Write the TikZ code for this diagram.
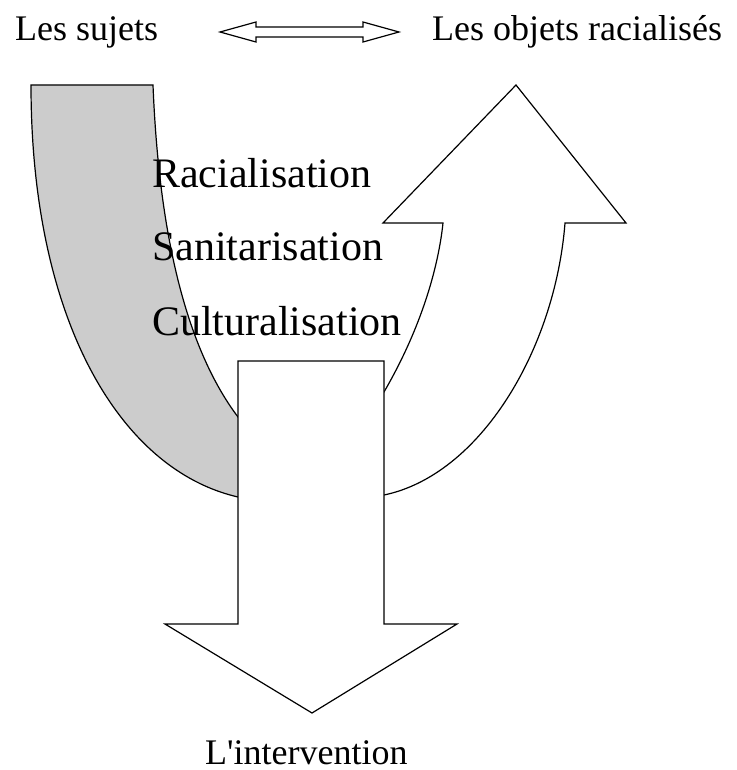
\documentclass[tikz,border=0pt]{standalone}
\usepackage{fontspec}
\setmainfont{Liberation Serif}
\newfontfamily\rawserif{Liberation Serif}
\definecolor{bandgray}{RGB}{204,204,204}
\begin{document}
\begin{tikzpicture}[x=1pt,y=-1pt,
  shapeline/.style={draw=black,line width=1.2pt,line join=miter},
  lbl/.style={inner sep=0pt,anchor=base west,font=\fontsize{36}{40}\selectfont},
  biglbl/.style={inner sep=0pt,anchor=base west,font=\fontsize{42}{46}\selectfont}]
\useasboundingbox (0,0) rectangle (736,770);
% gray left band
\path[shapeline,fill=bandgray] (31,85) -- (153,85)
  .. controls (160,260) and (195,360) .. (238,417)
  -- (260,440) -- (260,499) -- (238,497)
  .. controls (120,470) and (31,320) .. (31,85) -- cycle;
% white right curved up arrow
\path[shapeline,fill=white] (384,495)
  .. controls (480,475) and (555,350) .. (565,223)
  -- (626,223) -- (516,85) -- (383,223) -- (443,223)
  .. controls (438,270) and (420,330) .. (384,392)
  -- (360,420) -- (360,497) -- cycle;
% down arrow
\path[shapeline,fill=white] (238,361) -- (384,361) -- (384,624) -- (457,624)
  -- (312,713) -- (165,624) -- (238,624) -- cycle;
% double arrow
\path[shapeline,fill=white] (220,32) -- (256,22) -- (256,27) -- (363,27) -- (363,22)
  -- (399,32) -- (363,42) -- (363,37) -- (256,37) -- (256,42) -- cycle;
% texts
\node[lbl] (sujets) at (15,40.5) {Les sujets};
\node[lbl] (objets) at (432,40.5) {Les objets racialisés};
\node[biglbl] (racial) at (152,187) {Racialisation};
\node[biglbl] (sanit) at (152,260) {Sanitarisation};
\node[biglbl] (cultur) at (152,335) {Culturalisation};
\node[lbl] (interv) at (205,764) {\rawserif L'intervention};
\end{tikzpicture}
\end{document}
